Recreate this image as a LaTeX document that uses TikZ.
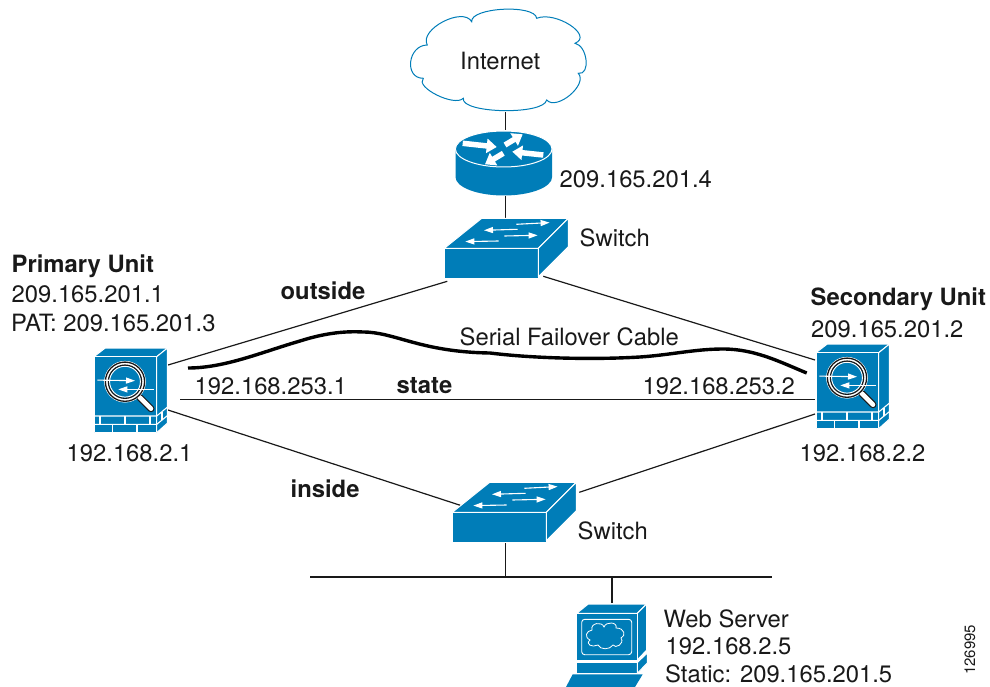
\documentclass[tikz,border=0pt]{standalone}
\usepackage{fontspec}
\setmainfont{TeX Gyre Heros}
\usetikzlibrary{arrows.meta}
\definecolor{ciscoblue}{RGB}{0, 125, 184}
\definecolor{lineblack}{RGB}{25, 25, 25}
\tikzset{>=latex}
\tikzset{
  lbl/.style = {anchor = base west, inner sep = 0pt, font = \fontsize{23.8}{26}\selectfont, text = lineblack},
  lblbold/.style = {lbl, font = \fontsize{23.8}{26}\selectfont\bfseries},
  iconbox/.style = {inner sep = 0pt, outer sep = 0pt},
  link/.style = {lineblack, line width = 1.2pt},
  face/.style = {fill = ciscoblue, draw = white, line width = 1pt, line join = round},
  swarrow/.style = {white, line width = 1.1pt, -{Triangle[length = 9pt, width = 6pt]}},
  rtarrow/.style = {white, line width = 5.5pt, -{Triangle[length = 10pt, width = 14pt]}},
  brick/.style = {white, line width = 1.1pt},
  switchicon/.pic = {
    \draw[face] (0,0) -- (37.4,-30) -- (124,-30) -- (94,0) -- cycle;
    \draw[face] (0,0) rectangle (94,30);
    \draw[face] (94,0) -- (124,-30) -- (124,-1.6) -- (94,28.4) -- cycle;
    \draw[swarrow] (72,-24) -- (105.3,-25.7);
    \draw[swarrow] (73.3,-19) -- (39.7,-18);
    \draw[swarrow] (60,-12.3) -- (93.3,-13);
    \draw[swarrow] (54.3,-7.3) -- (21,-6.7);
  },
  asaicon/.pic = {
    \draw[face] (0,0) -- (11,-8.5) -- (73.3,-8.5) -- (62.7,0) -- cycle;
    \draw[face] (62.7,0) -- (73.3,-8.5) -- (73.3,66.5) -- (62.7,76) -- cycle;
    \draw[face] (0,0) rectangle (62.7,76);
    % firewall bricks
    \draw[brick] (0,59.3) -- (62.7,59.3) -- (73.3,50.5);
    \draw[brick] (0,67.7) -- (62.7,67.7) -- (73.3,59);
    \foreach \bx in {6,31,56} \draw[brick] (\bx,59.3) -- (\bx,67.7);
    \foreach \bx in {18.3,43} \draw[brick] (\bx,67.7) -- (\bx,76);
    \draw[brick] (68,55) -- (68,63.5);
    % magnifier
    \draw[lineblack, line width = 7pt, line cap = round] (46,41) -- (57,52);
    \draw[white, line width = 4.6pt, line cap = round] (46,41) -- (57,52);
    \draw[fill = white, draw = white, line width = 0.6pt] (31,25) circle (20.5);
    \draw[lineblack, line width = 1.3pt] (31,25) circle (19.6);
    \draw[lineblack, line width = 1.3pt, fill = ciscoblue] (31,25) circle (16.6);
    \draw[white, line width = 0.9pt] (31,25) circle (15.4);
    \draw[swarrow] (3.3,23.4) -- (41,24);
    \draw[swarrow] (60,32.7) -- (24.3,32.7);
  }
}
\begin{document}
\begin{tikzpicture}[x = 1pt, y = -1pt]
\useasboundingbox (0,0) rectangle (990,687);
% nodes holding the icons
\node[iconbox, minimum width = 175pt, minimum height = 105pt] (cloud) at (498.5,60) {};
\node[lbl] (internet) at (460,70) {Internet};
\node[iconbox, minimum width = 97pt, minimum height = 66pt] (router) at (505.3,163) {};
\node[iconbox, minimum width = 124pt, minimum height = 60pt] (swtop) at (506.3,248.3) {};
\node[iconbox, minimum width = 74pt, minimum height = 84pt] (primary) at (131,390.5) {};
\node[iconbox, minimum width = 74pt, minimum height = 84pt] (secondary) at (852,387) {};
\node[iconbox, minimum width = 124pt, minimum height = 60pt] (swbot) at (514.3,512.3) {};
\node[iconbox, minimum width = 82pt, minimum height = 84pt] (webserver) at (621,645) {};
\coordinate (lanwest) at (310,577);
\coordinate (laneast) at (772,577);
% connectors
\draw[link] (cloud.south -| router.north) -- (router.north);
\draw[link] (router.south) -- (router.south |- swtop.north);
\draw[link] ([shift = {(-59,3)}]swtop.south) -- ([shift = {(0,-67.5)}]primary.south east);
\draw[link] ([shift = {(37,-2)}]swtop.south) -- ([shift = {(0,-69)}]secondary.south west);
\draw[link] ([shift = {(-54,-37)}]swbot.south) -- ([shift = {(0,-22.5)}]primary.south east);
\draw[link] ([shift = {(65,-50)}]swbot.south) -- ([shift = {(0,-15)}]secondary.south west);
\draw[link] ([shift = {(12,9)}]primary.east) -- ([shift = {(0,12.5)}]secondary.west);
\draw[line width = 3.4pt, black] ([shift = {(20,-22.5)}]primary.east)
  .. controls (225,368) and (262,352) .. (300,341)
  .. controls (325,333) and (345,331) .. (363,332)
  .. controls (395,332) and (420,352) .. (490,353)
  .. controls (530,358) and (590,360) .. (640,357)
  .. controls (670,355) and (695,349) .. (723,349)
  .. controls (755,349) and (780,362) .. ([shift = {(-8.3,-14)}]secondary.west);
\draw[link] (lanwest) -- (laneast);
\draw[link] ([xshift = -8.8pt]swbot.south) -- (505.5,577);
\draw[link] ([xshift = -9pt]webserver.north) -- (612,577);
% cloud
\draw[ciscoblue, line width = 1pt] (427.3,45)
  .. controls (418.6,29.5) and (463,6.2) .. (471.7,21.7)
  .. controls (470.1,7.4) and (535.1,4) .. (536.7,18.3)
  .. controls (555.6,10.6) and (593.9,35.6) .. (575,43.3)
  .. controls (587.5,45.6) and (590.8,75.6) .. (578.3,73.3)
  .. controls (588.3,84.5) and (556.7,111.2) .. (546.7,100)
  .. controls (544,115.3) and (460.6,113.6) .. (463.3,98.3)
  .. controls (454.5,107.2) and (414.5,87.2) .. (423.3,78.3)
  .. controls (403.8,78.4) and (407.8,45.1) .. cycle;
% router
\fill[ciscoblue] (455.5,149) -- (455.5,177) arc[start angle = 180, end angle = 360, x radius = 48.3, y radius = -18.5] -- (552,149) -- cycle;
\draw[white, line width = 1pt, fill = ciscoblue] (503.7,149) ellipse (48.3 and 18);
\draw[rtarrow] (462.7,143.3) -- (496.7,147);
\draw[rtarrow] (543.3,155) -- (512.3,151.7);
\draw[rtarrow] (505,145) -- (522.7,134.3);
\draw[rtarrow] (503.3,153.3) -- (485,164.3);
% switches, security units, server
\pic at (444.3,248.3) {switchicon};
\pic at (452.3,512.3) {switchicon};
\pic at (94,356.7) {asaicon};
\pic at (816,352.7) {asaicon};
\draw[face] (576.7,613.3) -- (588.3,604) -- (646.7,604) -- (637.3,613.3) -- cycle;
\draw[face] (637.3,613.3) -- (646.7,604) -- (646.7,650) -- (637.3,660) -- cycle;
\draw[face] (576.7,613.3) rectangle (637.3,660);
\draw[white, line width = 0.9pt, rounded corners = 3pt] (581.7,619.3) rectangle (631.7,654.7);
\draw[white, line width = 0.8pt] (592,630)
  .. controls (590,623) and (602,621) .. (604,627)
  .. controls (606,621) and (618,622) .. (616,628)
  .. controls (625,628) and (626,636) .. (621,638)
  .. controls (625,644) and (615,649) .. (613,645)
  .. controls (610,650) and (600,650) .. (598,645)
  .. controls (592,648) and (585,644) .. (590,640)
  .. controls (584,637) and (586,631) .. cycle;
\draw[face] (576.7,662.5) rectangle (637.3,673.3);
\draw[face] (637.3,662.5) -- (647.3,653) -- (647.3,663) -- (637.3,673.3) -- cycle;
\fill[ciscoblue] (572.7,674.3) -- (642.7,674.3) -- (635,687) -- (566,687) -- cycle;
% labels
\node[lbl] (routerip) at (559.5,188) {209.165.201.4};
\node[lbl] (swtoplabel) at (579.5,246) {Switch};
\node[lblbold] (primaryname) at (11.5,272) {Primary Unit};
\node[lbl] (primaryip) at (11.5,302) {209.165.201.1};
\node[lbl] (primarypat) at (11,331) {PAT: 209.165.201.3};
\node[lbl] (primaryin) at (66.5,461) {192.168.2.1};
\node[lblbold] (secondaryname) at (810.5,305) {Secondary Unit};
\node[lbl] (secondaryip) at (811,337) {209.165.201.2};
\node[lbl] (secondaryin) at (799.5,461) {192.168.2.2};
\node[lblbold] (outsidelabel) at (280.5,299) {outside};
\node[lblbold] (insidelabel) at (290.5,497) {inside};
\node[lblbold] (statelabel) at (396.5,393) {state};
\node[lbl] (cablelabel) at (459.5,345) {Serial Failover Cable};
\node[lbl] (stateone) at (194.5,394) {192.168.253.1};
\node[lbl] (statetwo) at (642.5,394) {192.168.253.2};
\node[lbl] (swbotlabel) at (577.5,539) {Switch};
\node[lbl] (servername) at (663.5,627) {Web Server};
\node[lbl] (serverip) at (665.5,654) {192.168.2.5};
\node[lbl] (serverstatic) at (665,682) {Static: 209.165.201.5};
\node[lbl, font = \fontsize{15}{17}\selectfont, rotate = 90] (figno) at (975,675) {126995};
\end{tikzpicture}
\end{document}
